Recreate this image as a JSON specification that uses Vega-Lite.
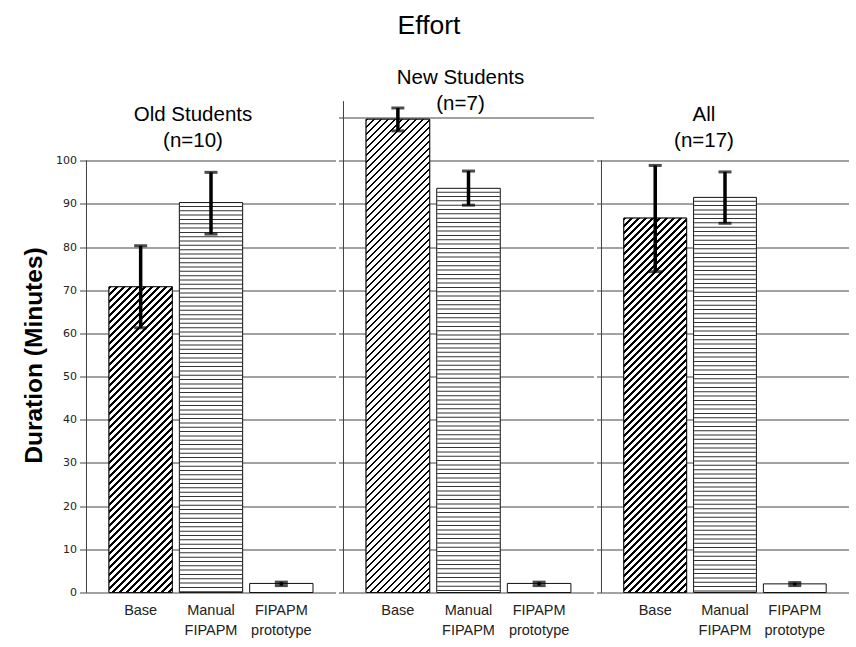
{
  "$schema": "https://vega.github.io/schema/vega-lite/v6.json",
  "padding": {"left": 21.5, "top": 12.5, "right": 4, "bottom": 2},
  "title": {"text": "Effort", "font": "Liberation Sans", "fontSize": 26.5, "fontWeight": "normal", "color": "#000", "anchor": "middle", "offset": 28.5, "dx": -6},
  "params": [
    {"name": "hatch", "value": [
      {"offset":0,"color":"#000"},{"offset":0.0045,"color":"#000"},{"offset":0.0045,"color":"#fff"},{"offset":0.0125,"color":"#fff"},
      {"offset":0.0125,"color":"#000"},{"offset":0.017,"color":"#000"},{"offset":0.017,"color":"#fff"},{"offset":0.025,"color":"#fff"},
      {"offset":0.025,"color":"#000"},{"offset":0.0295,"color":"#000"},{"offset":0.0295,"color":"#fff"},{"offset":0.0375,"color":"#fff"},
      {"offset":0.0375,"color":"#000"},{"offset":0.042,"color":"#000"},{"offset":0.042,"color":"#fff"},{"offset":0.05,"color":"#fff"},
      {"offset":0.05,"color":"#000"},{"offset":0.0545,"color":"#000"},{"offset":0.0545,"color":"#fff"},{"offset":0.0625,"color":"#fff"},
      {"offset":0.0625,"color":"#000"},{"offset":0.067,"color":"#000"},{"offset":0.067,"color":"#fff"},{"offset":0.075,"color":"#fff"},
      {"offset":0.075,"color":"#000"},{"offset":0.0795,"color":"#000"},{"offset":0.0795,"color":"#fff"},{"offset":0.0875,"color":"#fff"},
      {"offset":0.0875,"color":"#000"},{"offset":0.092,"color":"#000"},{"offset":0.092,"color":"#fff"},{"offset":0.1,"color":"#fff"},
      {"offset":0.1,"color":"#000"},{"offset":0.1045,"color":"#000"},{"offset":0.1045,"color":"#fff"},{"offset":0.1125,"color":"#fff"},
      {"offset":0.1125,"color":"#000"},{"offset":0.117,"color":"#000"},{"offset":0.117,"color":"#fff"},{"offset":0.125,"color":"#fff"},
      {"offset":0.125,"color":"#000"},{"offset":0.1295,"color":"#000"},{"offset":0.1295,"color":"#fff"},{"offset":0.1375,"color":"#fff"},
      {"offset":0.1375,"color":"#000"},{"offset":0.142,"color":"#000"},{"offset":0.142,"color":"#fff"},{"offset":0.15,"color":"#fff"},
      {"offset":0.15,"color":"#000"},{"offset":0.1545,"color":"#000"},{"offset":0.1545,"color":"#fff"},{"offset":0.1625,"color":"#fff"},
      {"offset":0.1625,"color":"#000"},{"offset":0.167,"color":"#000"},{"offset":0.167,"color":"#fff"},{"offset":0.175,"color":"#fff"},
      {"offset":0.175,"color":"#000"},{"offset":0.1795,"color":"#000"},{"offset":0.1795,"color":"#fff"},{"offset":0.1875,"color":"#fff"},
      {"offset":0.1875,"color":"#000"},{"offset":0.192,"color":"#000"},{"offset":0.192,"color":"#fff"},{"offset":0.2,"color":"#fff"},
      {"offset":0.2,"color":"#000"},{"offset":0.2045,"color":"#000"},{"offset":0.2045,"color":"#fff"},{"offset":0.2125,"color":"#fff"},
      {"offset":0.2125,"color":"#000"},{"offset":0.217,"color":"#000"},{"offset":0.217,"color":"#fff"},{"offset":0.225,"color":"#fff"},
      {"offset":0.225,"color":"#000"},{"offset":0.2295,"color":"#000"},{"offset":0.2295,"color":"#fff"},{"offset":0.2375,"color":"#fff"},
      {"offset":0.2375,"color":"#000"},{"offset":0.242,"color":"#000"},{"offset":0.242,"color":"#fff"},{"offset":0.25,"color":"#fff"},
      {"offset":0.25,"color":"#000"},{"offset":0.2545,"color":"#000"},{"offset":0.2545,"color":"#fff"},{"offset":0.2625,"color":"#fff"},
      {"offset":0.2625,"color":"#000"},{"offset":0.267,"color":"#000"},{"offset":0.267,"color":"#fff"},{"offset":0.275,"color":"#fff"},
      {"offset":0.275,"color":"#000"},{"offset":0.2795,"color":"#000"},{"offset":0.2795,"color":"#fff"},{"offset":0.2875,"color":"#fff"},
      {"offset":0.2875,"color":"#000"},{"offset":0.292,"color":"#000"},{"offset":0.292,"color":"#fff"},{"offset":0.3,"color":"#fff"},
      {"offset":0.3,"color":"#000"},{"offset":0.3045,"color":"#000"},{"offset":0.3045,"color":"#fff"},{"offset":0.3125,"color":"#fff"},
      {"offset":0.3125,"color":"#000"},{"offset":0.317,"color":"#000"},{"offset":0.317,"color":"#fff"},{"offset":0.325,"color":"#fff"},
      {"offset":0.325,"color":"#000"},{"offset":0.3295,"color":"#000"},{"offset":0.3295,"color":"#fff"},{"offset":0.3375,"color":"#fff"},
      {"offset":0.3375,"color":"#000"},{"offset":0.342,"color":"#000"},{"offset":0.342,"color":"#fff"},{"offset":0.35,"color":"#fff"},
      {"offset":0.35,"color":"#000"},{"offset":0.3545,"color":"#000"},{"offset":0.3545,"color":"#fff"},{"offset":0.3625,"color":"#fff"},
      {"offset":0.3625,"color":"#000"},{"offset":0.367,"color":"#000"},{"offset":0.367,"color":"#fff"},{"offset":0.375,"color":"#fff"},
      {"offset":0.375,"color":"#000"},{"offset":0.3795,"color":"#000"},{"offset":0.3795,"color":"#fff"},{"offset":0.3875,"color":"#fff"},
      {"offset":0.3875,"color":"#000"},{"offset":0.392,"color":"#000"},{"offset":0.392,"color":"#fff"},{"offset":0.4,"color":"#fff"},
      {"offset":0.4,"color":"#000"},{"offset":0.4045,"color":"#000"},{"offset":0.4045,"color":"#fff"},{"offset":0.4125,"color":"#fff"},
      {"offset":0.4125,"color":"#000"},{"offset":0.417,"color":"#000"},{"offset":0.417,"color":"#fff"},{"offset":0.425,"color":"#fff"},
      {"offset":0.425,"color":"#000"},{"offset":0.4295,"color":"#000"},{"offset":0.4295,"color":"#fff"},{"offset":0.4375,"color":"#fff"},
      {"offset":0.4375,"color":"#000"},{"offset":0.442,"color":"#000"},{"offset":0.442,"color":"#fff"},{"offset":0.45,"color":"#fff"},
      {"offset":0.45,"color":"#000"},{"offset":0.4545,"color":"#000"},{"offset":0.4545,"color":"#fff"},{"offset":0.4625,"color":"#fff"},
      {"offset":0.4625,"color":"#000"},{"offset":0.467,"color":"#000"},{"offset":0.467,"color":"#fff"},{"offset":0.475,"color":"#fff"},
      {"offset":0.475,"color":"#000"},{"offset":0.4795,"color":"#000"},{"offset":0.4795,"color":"#fff"},{"offset":0.4875,"color":"#fff"},
      {"offset":0.4875,"color":"#000"},{"offset":0.492,"color":"#000"},{"offset":0.492,"color":"#fff"},{"offset":0.5,"color":"#fff"},
      {"offset":0.5,"color":"#000"},{"offset":0.5045,"color":"#000"},{"offset":0.5045,"color":"#fff"},{"offset":0.5125,"color":"#fff"},
      {"offset":0.5125,"color":"#000"},{"offset":0.517,"color":"#000"},{"offset":0.517,"color":"#fff"},{"offset":0.525,"color":"#fff"},
      {"offset":0.525,"color":"#000"},{"offset":0.5295,"color":"#000"},{"offset":0.5295,"color":"#fff"},{"offset":0.5375,"color":"#fff"},
      {"offset":0.5375,"color":"#000"},{"offset":0.542,"color":"#000"},{"offset":0.542,"color":"#fff"},{"offset":0.55,"color":"#fff"},
      {"offset":0.55,"color":"#000"},{"offset":0.5545,"color":"#000"},{"offset":0.5545,"color":"#fff"},{"offset":0.5625,"color":"#fff"},
      {"offset":0.5625,"color":"#000"},{"offset":0.567,"color":"#000"},{"offset":0.567,"color":"#fff"},{"offset":0.575,"color":"#fff"},
      {"offset":0.575,"color":"#000"},{"offset":0.5795,"color":"#000"},{"offset":0.5795,"color":"#fff"},{"offset":0.5875,"color":"#fff"},
      {"offset":0.5875,"color":"#000"},{"offset":0.592,"color":"#000"},{"offset":0.592,"color":"#fff"},{"offset":0.6,"color":"#fff"},
      {"offset":0.6,"color":"#000"},{"offset":0.6045,"color":"#000"},{"offset":0.6045,"color":"#fff"},{"offset":0.6125,"color":"#fff"},
      {"offset":0.6125,"color":"#000"},{"offset":0.617,"color":"#000"},{"offset":0.617,"color":"#fff"},{"offset":0.625,"color":"#fff"},
      {"offset":0.625,"color":"#000"},{"offset":0.6295,"color":"#000"},{"offset":0.6295,"color":"#fff"},{"offset":0.6375,"color":"#fff"},
      {"offset":0.6375,"color":"#000"},{"offset":0.642,"color":"#000"},{"offset":0.642,"color":"#fff"},{"offset":0.65,"color":"#fff"},
      {"offset":0.65,"color":"#000"},{"offset":0.6545,"color":"#000"},{"offset":0.6545,"color":"#fff"},{"offset":0.6625,"color":"#fff"},
      {"offset":0.6625,"color":"#000"},{"offset":0.667,"color":"#000"},{"offset":0.667,"color":"#fff"},{"offset":0.675,"color":"#fff"},
      {"offset":0.675,"color":"#000"},{"offset":0.6795,"color":"#000"},{"offset":0.6795,"color":"#fff"},{"offset":0.6875,"color":"#fff"},
      {"offset":0.6875,"color":"#000"},{"offset":0.692,"color":"#000"},{"offset":0.692,"color":"#fff"},{"offset":0.7,"color":"#fff"},
      {"offset":0.7,"color":"#000"},{"offset":0.7045,"color":"#000"},{"offset":0.7045,"color":"#fff"},{"offset":0.7125,"color":"#fff"},
      {"offset":0.7125,"color":"#000"},{"offset":0.717,"color":"#000"},{"offset":0.717,"color":"#fff"},{"offset":0.725,"color":"#fff"},
      {"offset":0.725,"color":"#000"},{"offset":0.7295,"color":"#000"},{"offset":0.7295,"color":"#fff"},{"offset":0.7375,"color":"#fff"},
      {"offset":0.7375,"color":"#000"},{"offset":0.742,"color":"#000"},{"offset":0.742,"color":"#fff"},{"offset":0.75,"color":"#fff"},
      {"offset":0.75,"color":"#000"},{"offset":0.7545,"color":"#000"},{"offset":0.7545,"color":"#fff"},{"offset":0.7625,"color":"#fff"},
      {"offset":0.7625,"color":"#000"},{"offset":0.767,"color":"#000"},{"offset":0.767,"color":"#fff"},{"offset":0.775,"color":"#fff"},
      {"offset":0.775,"color":"#000"},{"offset":0.7795,"color":"#000"},{"offset":0.7795,"color":"#fff"},{"offset":0.7875,"color":"#fff"},
      {"offset":0.7875,"color":"#000"},{"offset":0.792,"color":"#000"},{"offset":0.792,"color":"#fff"},{"offset":0.8,"color":"#fff"},
      {"offset":0.8,"color":"#000"},{"offset":0.8045,"color":"#000"},{"offset":0.8045,"color":"#fff"},{"offset":0.8125,"color":"#fff"},
      {"offset":0.8125,"color":"#000"},{"offset":0.817,"color":"#000"},{"offset":0.817,"color":"#fff"},{"offset":0.825,"color":"#fff"},
      {"offset":0.825,"color":"#000"},{"offset":0.8295,"color":"#000"},{"offset":0.8295,"color":"#fff"},{"offset":0.8375,"color":"#fff"},
      {"offset":0.8375,"color":"#000"},{"offset":0.842,"color":"#000"},{"offset":0.842,"color":"#fff"},{"offset":0.85,"color":"#fff"},
      {"offset":0.85,"color":"#000"},{"offset":0.8545,"color":"#000"},{"offset":0.8545,"color":"#fff"},{"offset":0.8625,"color":"#fff"},
      {"offset":0.8625,"color":"#000"},{"offset":0.867,"color":"#000"},{"offset":0.867,"color":"#fff"},{"offset":0.875,"color":"#fff"},
      {"offset":0.875,"color":"#000"},{"offset":0.8795,"color":"#000"},{"offset":0.8795,"color":"#fff"},{"offset":0.8875,"color":"#fff"},
      {"offset":0.8875,"color":"#000"},{"offset":0.892,"color":"#000"},{"offset":0.892,"color":"#fff"},{"offset":0.9,"color":"#fff"},
      {"offset":0.9,"color":"#000"},{"offset":0.9045,"color":"#000"},{"offset":0.9045,"color":"#fff"},{"offset":0.9125,"color":"#fff"},
      {"offset":0.9125,"color":"#000"},{"offset":0.917,"color":"#000"},{"offset":0.917,"color":"#fff"},{"offset":0.925,"color":"#fff"},
      {"offset":0.925,"color":"#000"},{"offset":0.9295,"color":"#000"},{"offset":0.9295,"color":"#fff"},{"offset":0.9375,"color":"#fff"},
      {"offset":0.9375,"color":"#000"},{"offset":0.942,"color":"#000"},{"offset":0.942,"color":"#fff"},{"offset":0.95,"color":"#fff"},
      {"offset":0.95,"color":"#000"},{"offset":0.9545,"color":"#000"},{"offset":0.9545,"color":"#fff"},{"offset":0.9625,"color":"#fff"},
      {"offset":0.9625,"color":"#000"},{"offset":0.967,"color":"#000"},{"offset":0.967,"color":"#fff"},{"offset":0.975,"color":"#fff"},
      {"offset":0.975,"color":"#000"},{"offset":0.9795,"color":"#000"},{"offset":0.9795,"color":"#fff"},{"offset":0.9875,"color":"#fff"},
      {"offset":0.9875,"color":"#000"},{"offset":0.992,"color":"#000"},{"offset":0.992,"color":"#fff"},{"offset":1,"color":"#fff"}
    ]}
  ],
  "datasets": {
    "effort": [
      {"group": "Old Students", "cond": "Base", "mean": 70.8, "lo": 61.3, "hi": 80.3},
      {"group": "Old Students", "cond": "Manual FIPAPM", "mean": 90.3, "lo": 83.0, "hi": 97.3},
      {"group": "Old Students", "cond": "FIPAPM prototype", "mean": 2.1, "lo": 1.6, "hi": 2.4},
      {"group": "New Students", "cond": "Base", "mean": 109.6, "lo": 106.9, "hi": 112.2},
      {"group": "New Students", "cond": "Manual FIPAPM", "mean": 93.6, "lo": 89.7, "hi": 97.6},
      {"group": "New Students", "cond": "FIPAPM prototype", "mean": 2.1, "lo": 1.6, "hi": 2.4},
      {"group": "All", "cond": "Base", "mean": 86.7, "lo": 74.3, "hi": 98.9},
      {"group": "All", "cond": "Manual FIPAPM", "mean": 91.5, "lo": 85.5, "hi": 97.4},
      {"group": "All", "cond": "FIPAPM prototype", "mean": 2.0, "lo": 1.6, "hi": 2.3}
    ]
  },
  "bounds": "flush",
  "spacing": 8,
  "hconcat": [
    {
      "width": 249,
      "height": 475,
      "title": {"text": ["Old Students", "(n=10)"], "lineHeight": 26, "baseline": "bottom", "offset": -54, "dx": -18},
      "data": {"name": "effort"},
      "transform": [{"filter": "datum.group === 'Old Students'"}],
      "encoding": {
        "x": {"field": "cond", "type": "nominal", "sort": null, "title": null,
              "scale": {"domain": ["Base", "Manual FIPAPM", "FIPAPM prototype"], "paddingInner": 0.1, "paddingOuter": 0.32}},
        "y": {"field": "mean", "type": "quantitative", "title": "Duration (Minutes)",
              "scale": {"domain": [0, 110], "nice": false},
              "axis": {"values": [0, 10, 20, 30, 40, 50, 60, 70, 80, 90, 100], "tickSize": 7, "labelFont": "DejaVu Sans", "labelFontSize": 11, "labelColor": "#222", "labelPadding": 3, "titleFont": "Liberation Sans", "titleFontSize": 24.5, "titleFontWeight": "bold", "titleColor": "#000", "titlePadding": 9}}
      },
      "layer": [
        {"mark": {"type": "bar", "fill": "#fff", "stroke": "#111", "strokeWidth": 1}},
        {
          "transform": [{"filter": "datum.cond === 'Base'"}],
          "mark": {"type": "bar", "stroke": "#111", "strokeWidth": 1, "fill": {"expr": "{gradient: 'linear', x1: 0, y1: 0, x2: 0.3634, y2: 1.7559, stops: hatch}"}}
        },
        {
          "transform": [{"filter": "datum.cond === 'Manual FIPAPM'"}],
          "mark": {"type": "rule", "color": "#333", "strokeWidth": 62.3, "strokeCap": "butt", "strokeDash": [1, 3.33], "strokeDashOffset": 1},
          "encoding": {"y2": {"datum": 0}}
        },
        {
          "mark": {"type": "errorbar", "ticks": {"size": 13, "thickness": 3, "color": "#000"}, "rule": {"strokeWidth": 3.5, "color": "#000"}},
          "encoding": {
            "y": {"field": "lo", "type": "quantitative", "title": "Duration (Minutes)", "scale": {"domain": [0, 110], "nice": false}},
            "y2": {"field": "hi"}
          }
        },
        {
          "mark": {"type": "rule", "color": "#444", "strokeWidth": 1},
          "encoding": {
            "x": {"datum": "Base", "type": "nominal", "bandPosition": -0.35556, "title": null,
                  "scale": {"domain": ["Base", "Manual FIPAPM", "FIPAPM prototype"], "paddingInner": 0.1, "paddingOuter": 0.32}},
            "y": {"datum": 0, "type": "quantitative", "title": "Duration (Minutes)", "scale": {"domain": [0, 110], "nice": false}},
            "y2": {"datum": 100}
          }
        }
      ]
    },
    {
      "width": 250,
      "height": 475,
      "title": {"text": ["New Students", "(n=7)"], "lineHeight": 26, "baseline": "bottom", "offset": -33, "dx": -8},
      "data": {"name": "effort"},
      "transform": [{"filter": "datum.group === 'New Students'"}],
      "encoding": {
        "x": {"field": "cond", "type": "nominal", "sort": null, "title": null,
              "scale": {"domain": ["Base", "Manual FIPAPM", "FIPAPM prototype"], "paddingInner": 0.1, "paddingOuter": 0.32}},
        "y": {"field": "mean", "type": "quantitative", "title": null,
              "scale": {"domain": [0, 110], "nice": false},
              "axis": {"values": [0, 10, 20, 30, 40, 50, 60, 70, 80, 90, 100, 110], "tickSize": 5, "labels": false}}
      },
      "layer": [
        {"mark": {"type": "bar", "fill": "#fff", "stroke": "#111", "strokeWidth": 1}},
        {
          "transform": [{"filter": "datum.cond === 'Base'"}],
          "mark": {"type": "bar", "stroke": "#111", "strokeWidth": 1, "fill": {"expr": "{gradient: 'linear', x1: 0, y1: 0, x2: 0.1562, y2: 1.1622, stops: hatch}"}}
        },
        {
          "transform": [{"filter": "datum.cond === 'Manual FIPAPM'"}],
          "mark": {"type": "rule", "color": "#333", "strokeWidth": 62.6, "strokeCap": "butt", "strokeDash": [1, 3.33], "strokeDashOffset": 1},
          "encoding": {"y2": {"datum": 0}}
        },
        {
          "mark": {"type": "errorbar", "ticks": {"size": 13, "thickness": 3, "color": "#000"}, "rule": {"strokeWidth": 3.5, "color": "#000"}},
          "encoding": {
            "y": {"field": "lo", "type": "quantitative", "title": null, "scale": {"domain": [0, 110], "nice": false}},
            "y2": {"field": "hi"}
          }
        },
        {
          "mark": {"type": "rule", "color": "#444", "strokeWidth": 1},
          "encoding": {
            "x": {"datum": "Base", "type": "nominal", "bandPosition": -0.35556, "title": null,
                  "scale": {"domain": ["Base", "Manual FIPAPM", "FIPAPM prototype"], "paddingInner": 0.1, "paddingOuter": 0.32}},
            "y": {"datum": 0, "type": "quantitative", "title": null, "scale": {"domain": [0, 110], "nice": false}},
            "y2": {"datum": 113.7}
          }
        }
      ]
    },
    {
      "width": 247,
      "height": 475,
      "title": {"text": ["All", "(n=17)"], "lineHeight": 26, "baseline": "bottom", "offset": -54, "dx": -21},
      "data": {"name": "effort"},
      "transform": [{"filter": "datum.group === 'All'"}],
      "encoding": {
        "x": {"field": "cond", "type": "nominal", "sort": null, "title": null,
              "scale": {"domain": ["Base", "Manual FIPAPM", "FIPAPM prototype"], "paddingInner": 0.1, "paddingOuter": 0.32}},
        "y": {"field": "mean", "type": "quantitative", "title": null,
              "scale": {"domain": [0, 110], "nice": false},
              "axis": {"values": [0, 10, 20, 30, 40, 50, 60, 70, 80, 90, 100], "tickSize": 5, "labels": false}}
      },
      "layer": [
        {"mark": {"type": "bar", "fill": "#fff", "stroke": "#111", "strokeWidth": 1}},
        {
          "transform": [{"filter": "datum.cond === 'Base'"}],
          "mark": {"type": "bar", "stroke": "#111", "strokeWidth": 1, "fill": {"expr": "{gradient: 'linear', x1: 0, y1: 0, x2: 0.244, y2: 1.4548, stops: hatch}"}}
        },
        {
          "transform": [{"filter": "datum.cond === 'Manual FIPAPM'"}],
          "mark": {"type": "rule", "color": "#333", "strokeWidth": 61.8, "strokeCap": "butt", "strokeDash": [1, 3.33], "strokeDashOffset": 1},
          "encoding": {"y2": {"datum": 0}}
        },
        {
          "mark": {"type": "errorbar", "ticks": {"size": 13, "thickness": 3, "color": "#000"}, "rule": {"strokeWidth": 3.5, "color": "#000"}},
          "encoding": {
            "y": {"field": "lo", "type": "quantitative", "title": null, "scale": {"domain": [0, 110], "nice": false}},
            "y2": {"field": "hi"}
          }
        },
        {
          "mark": {"type": "rule", "color": "#444", "strokeWidth": 1},
          "encoding": {
            "x": {"datum": "Base", "type": "nominal", "bandPosition": -0.35556, "title": null,
                  "scale": {"domain": ["Base", "Manual FIPAPM", "FIPAPM prototype"], "paddingInner": 0.1, "paddingOuter": 0.32}},
            "y": {"datum": 0, "type": "quantitative", "title": null, "scale": {"domain": [0, 110], "nice": false}},
            "y2": {"datum": 100}
          }
        }
      ]
    }
  ],
  "config": {
    "view": {"stroke": null},
    "font": "Liberation Sans",
    "title": {"font": "Liberation Sans", "fontSize": 20.5, "fontWeight": "normal", "color": "#000", "anchor": "middle"},
    "axisX": {"labelAngle": 0, "ticks": false, "domain": false, "grid": false, "labelPadding": 11, "labelFont": "Liberation Sans", "labelFontSize": 14.5, "labelLineHeight": 20, "labelColor": "#222", "labelExpr": "split(datum.label, ' ')"},
    "axisY": {"grid": true, "gridColor": "#444", "gridWidth": 1, "domain": false, "tickColor": "#444"}
  }
}
